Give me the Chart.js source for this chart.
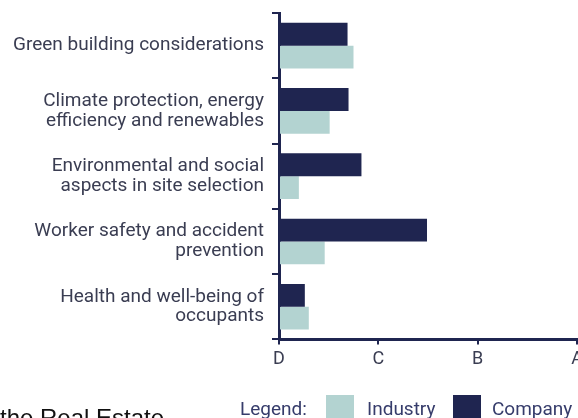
<!DOCTYPE html>
<html>
<head>
<meta charset="utf-8">
<script src="https://cdn.jsdelivr.net/npm/chart.js@4"></script>
<style>
  html, body { margin: 0; padding: 0; width: 578px; height: 418px; overflow: hidden; background: #fff; }
  #wrap { position: absolute; left: 0; top: 0; width: 600px; height: 418px; }
  .txt { position: absolute; font-family: Roboto, sans-serif; white-space: nowrap; line-height: normal; }
  .sw { position: absolute; width: 28px; height: 24px; top: 395px; }
</style>
</head>
<body>
<div id="wrap"><canvas id="esg" width="600" height="418"></canvas></div>
<div class="txt" style="left:0;top:404px;font-family:'Liberation Sans',sans-serif;font-size:24px;color:#111;">the Real Estate</div>
<div class="txt" style="left:240px;top:397px;font-size:19px;color:#363c6b;">Legend:</div>
<div class="sw" style="left:326px;background:#b3d3d1;"></div>
<div class="txt" style="left:367px;top:397px;font-size:19px;color:#363c6b;">Industry</div>
<div class="sw" style="left:453px;background:#1f2550;"></div>
<div class="txt" style="left:492px;top:397px;font-size:19px;color:#363c6b;">Company</div>
<script>
var Topics = [
  ['Green building considerations'],
  ['Climate protection, energy', 'efficiency and renewables'],
  ['Environmental and social', 'aspects in site selection'],
  ['Worker safety and accident', 'prevention'],
  ['Health and well-being of', 'occupants']
];
var Grades = ['D', 'C', 'B', 'A'];
var Company = [0.69, 0.70, 0.83, 1.49, 0.26];
var Industry = [0.75, 0.51, 0.20, 0.46, 0.30];

var navy = '#1f2550';

let esgChart = new Chart("esg", {
  type: "bar",
  data: {
    labels: Topics,
    datasets: [{
      label: 'Company',
      data: Company,
      backgroundColor: navy,
      categoryPercentage: 0.7,
      barPercentage: 1
    }, {
      label: 'Industry',
      data: Industry,
      backgroundColor: '#b3d3d1',
      categoryPercentage: 0.7,
      barPercentage: 1
    }]
  },
  options: {
    indexAxis: 'y',
    responsive: false,
    animation: false,
    layout: { padding: { top: 13, right: 23, bottom: 44, left: 0 } },
    plugins: { legend: { display: false }, tooltip: { enabled: false } },
    scales: {
      x: {
        min: 0,
        max: 3,
        z: 1,
        border: { color: navy, width: 3 },
        grid: { drawOnChartArea: false, color: navy, lineWidth: 2, tickLength: 5 },
        ticks: {
          stepSize: 1,
          padding: 4,
          color: '#3a3d52',
          font: { family: 'Roboto', size: 18 },
          callback: function (v) { return Grades[v]; }
        }
      },
      y: {
        z: 1,
        afterFit: function (s) { s.width = 279; s.paddingTop = 0; s.paddingBottom = 0; },
        border: { color: navy, width: 3 },
        grid: { drawOnChartArea: false, color: navy, lineWidth: 2, tickLength: 7 },
        ticks: {
          padding: 8,
          color: '#3a3d52',
          font: { family: 'Roboto', size: 19, lineHeight: 1.05 }
        }
      }
    }
  }
});
</script>
</body>
</html>
